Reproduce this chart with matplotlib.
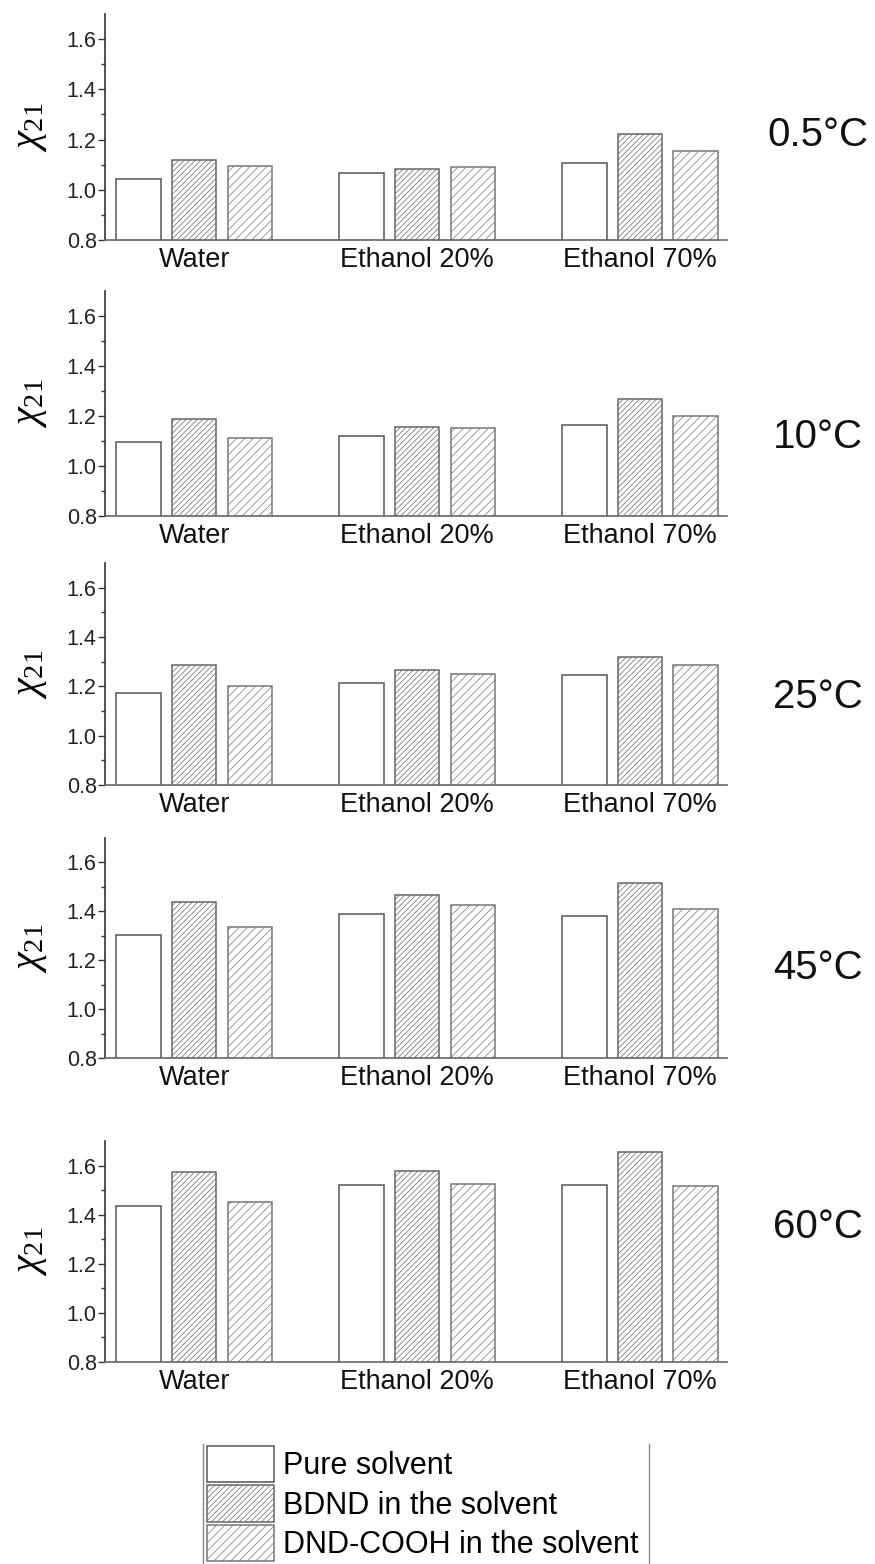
import numpy as np
import matplotlib
matplotlib.use("Agg")
import matplotlib.pyplot as plt
from matplotlib.lines import Line2D

plt.rcParams['font.family'] = ['Liberation Sans', 'DejaVu Sans']
plt.rcParams['mathtext.fontset'] = 'custom'
plt.rcParams['mathtext.rm'] = 'Liberation Sans'
plt.rcParams['mathtext.it'] = 'Liberation Serif:italic'
plt.rcParams['mathtext.sf'] = 'Liberation Serif'
plt.rcParams['hatch.linewidth'] = 0.5

solvents = ['Water', 'Ethanol 20%', 'Ethanol 70%']
temps = ['0.5', '10', '25', '45', '60']
series = ['Pure solvent', 'BDND in the solvent', 'DND-COOH in the solvent']

# chi_21 per temperature, rows: pure, BDND, DND-COOH ; columns: solvents
pure = [[1.044, 1.067, 1.107],
        [1.095, 1.120, 1.165],
        [1.172, 1.215, 1.245],
        [1.305, 1.390, 1.380],
        [1.437, 1.521, 1.520]]
bdnd = [[1.117, 1.083, 1.221],
        [1.187, 1.158, 1.270],
        [1.287, 1.267, 1.320],
        [1.440, 1.465, 1.517],
        [1.573, 1.577, 1.656]]
dnd = [[1.094, 1.091, 1.153],
       [1.112, 1.152, 1.202],
       [1.200, 1.250, 1.285],
       [1.337, 1.427, 1.410],
       [1.453, 1.525, 1.518]]

W, H = 875, 1564
fig = plt.figure(figsize=(W / 100, H / 100), dpi=100)

# panel extents in pixels (top, bottom)
panels = [(14, 240), (291, 516), (563, 785), (838, 1058), (1141, 1362)]
temp_y = [135, 437, 697, 968, 1227]
x0, x1 = 105, 727

x = np.arange(len(solvents))
bw = 0.2
edges = ['#555555', '#666666', '#777777']
hatches = [None, '//////', '////']

handles = None
for i, (top, bot) in enumerate(panels):
    ax = fig.add_axes([x0 / W, 1 - bot / H, (x1 - x0) / W, (bot - top) / H])
    bars = []
    for k, vals in enumerate([pure[i], bdnd[i], dnd[i]]):
        b = ax.bar(x + (k - 1) * 0.25, vals, bw, bottom=0,
                   facecolor='white', edgecolor=edges[k],
                   hatch=hatches[k], linewidth=1.1, label=series[k])
        bars.append(b)
    if handles is None:
        handles = bars
    ax.set_ylim(0.8, 1.7)
    ax.set_xlim(-0.40, 2.39)
    ax.set_yticks([0.8, 1.0, 1.2, 1.4, 1.6])
    ax.set_yticks(np.arange(0.9, 1.7, 0.2), minor=True)
    ax.set_yticklabels(['0.8', '1.0', '1.2', '1.4', '1.6'])
    ax.set_xticks(x)
    ax.set_xticklabels(solvents, fontsize=19.5, color='#111111')
    ax.tick_params(axis='x', length=0, pad=5)
    ax.tick_params(axis='y', which='major', length=5, width=1.0, labelsize=15.5,
                   color='#333333', labelcolor='#222222', pad=1)
    ax.tick_params(axis='y', which='minor', length=3, width=1.0, color='#333333')
    for s in ['top', 'right']:
        ax.spines[s].set_visible(False)
    ax.spines['left'].set_color('#333333')
    ax.spines['bottom'].set_color('#666666')
    for s in ['left', 'bottom']:
        ax.spines[s].set_linewidth(1.2)
    ax.set_ylabel(r'$\chi_{\mathsf{21}}$', fontsize=29, labelpad=13)
    fig.text(818 / W, 1 - temp_y[i] / H, temps[i] + '\u00b0C',
             fontsize=29, ha='center', va='center', color='#111111')

# legend at the bottom
fig.legend(handles, series, loc='upper left',
           bbox_to_anchor=(207 / W, 1 - 1446 / H), frameon=False,
           fontsize=22, handlelength=2.2, handleheight=1.45,
           labelspacing=0.1, handletextpad=0.3, borderpad=0,
           borderaxespad=0)
for xv in [203, 649]:
    fig.add_artist(Line2D([xv / W, xv / W], [1 - 1444 / H, 0],
                          transform=fig.transFigure, color='#888888', lw=1.0))

fig.savefig('out.png', dpi=100, facecolor='white')
